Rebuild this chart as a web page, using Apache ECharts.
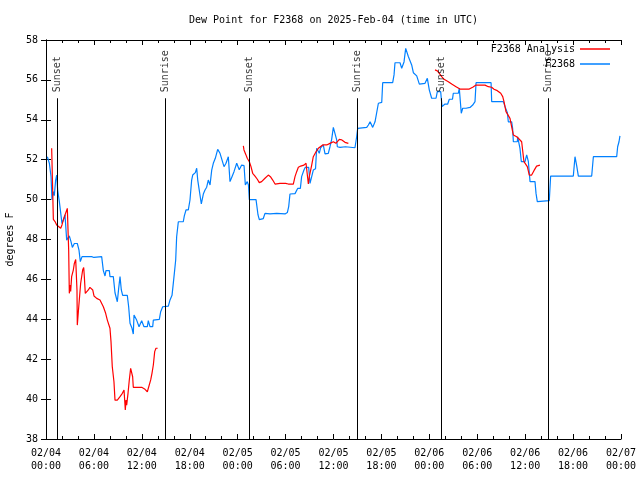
<!DOCTYPE html>
<html><head><meta charset="utf-8">
<script src="https://cdn.jsdelivr.net/npm/echarts@6/dist/echarts.min.js"></script>
<style>html,body{margin:0;padding:0;background:#fff}#c{width:640px;height:480px}</style>
</head><body><div id="c"></div>
<script>
// Hours since 2025-02-04 00:00 UTC
const blueTimes = [0.17,0.42,0.63,0.75,0.92,1.04,1.21,1.34,1.46,1.67,1.88,2.0,2.17,2.38,2.59,2.92,3.13,3.3,3.55,3.92,4.13,4.3,4.51,5.72,6.0,6.97,7.18,7.39,7.51,7.93,8.01,8.43,8.64,8.93,9.1,9.27,9.43,9.6,10.18,10.35,10.52,10.77,10.93,11.02,11.35,11.65,11.98,12.27,12.69,12.81,13.02,13.36,13.44,14.19,14.36,14.61,15.32,15.53,15.78,15.94,16.07,16.24,16.36,16.57,17.19,17.32,17.53,17.82,18.03,18.24,18.37,18.7,18.87,19.0,19.2,19.45,19.7,19.91,20.12,20.32,20.54,20.75,20.95,21.2,21.5,21.79,22.04,22.29,22.54,22.83,23.04,23.29,23.54,23.88,24.2,24.5,24.8,24.96,25.2,25.35,25.46,26.3,26.55,26.71,27.21,27.42,28.05,28.89,29.93,30.22,30.39,30.55,31.18,31.51,31.85,32.01,32.3,32.47,32.89,33.06,33.3,33.47,33.75,33.89,34.1,34.22,34.39,34.72,34.94,35.35,35.56,35.77,35.98,36.23,36.4,36.48,36.81,37.5,38.69,38.9,39.03,40.16,40.37,40.58,40.91,41.2,41.41,41.62,42.04,42.16,43.41,43.58,43.7,44.33,44.54,44.75,44.83,45.04,45.37,45.79,46.0,46.2,46.42,46.75,47.46,47.75,48.0,48.29,48.84,49.0,49.42,49.59,49.75,49.96,50.3,50.5,50.9,51.0,51.63,51.75,51.9,52.0,52.18,52.6,53.09,53.43,53.72,53.85,55.73,55.81,57.27,57.48,57.77,57.89,58.31,58.43,58.52,59.02,59.06,59.25,59.35,59.52,59.98,60.19,60.4,60.61,61.23,61.36,61.52,63.02,63.19,66.03,66.24,66.45,66.66,68.33,68.54,71.46,71.58,71.75,71.87];
const blueValues = [52.15,51.82,51.15,49.98,50.4,50.2,50.98,51.23,50.48,49.9,49.98,48.81,48.98,49.23,47.97,48.18,47.89,47.6,47.8,47.8,47.47,46.89,47.14,47.14,47.1,47.14,46.44,46.17,46.44,46.44,46.14,46.14,45.33,44.88,45.55,46.14,45.47,45.2,45.2,44.63,43.8,43.55,43.26,44.22,43.96,43.63,43.93,43.63,43.63,43.93,43.63,43.63,43.96,44.0,44.38,44.63,44.66,44.97,45.2,45.8,46.3,46.97,48.14,48.89,48.89,49.18,49.48,49.48,49.98,50.98,51.23,51.35,51.57,50.98,50.98,49.78,50.28,50.48,50.62,50.98,50.73,51.48,51.82,52.07,52.52,52.32,52.23,51.65,51.82,52.15,50.9,51.15,51.4,51.82,51.5,51.73,51.7,50.73,50.9,50.73,50.0,50.0,49.23,49.0,49.05,49.31,49.28,49.31,49.28,49.35,49.65,50.28,50.3,50.56,50.56,51.15,51.48,51.62,51.62,50.81,50.81,51.48,51.55,52.57,52.57,52.32,52.6,52.74,52.29,52.32,52.65,53.02,53.62,53.62,52.99,52.65,52.62,52.65,52.6,53.15,53.57,53.62,53.74,53.9,53.62,53.9,53.95,54.83,54.87,55.86,55.86,56.25,56.86,56.86,56.58,56.58,56.9,57.58,57.17,56.75,56.36,56.36,56.2,55.79,55.83,56.08,55.49,55.08,55.08,55.41,55.41,54.66,54.7,54.79,54.79,55.03,55.03,55.33,55.33,55.58,55.58,54.33,54.58,54.58,54.62,54.74,54.91,55.86,55.86,54.91,54.91,54.66,54.36,53.9,53.9,53.57,52.9,52.9,53.15,53.15,52.57,51.9,51.9,52.24,51.9,50.9,50.9,50.31,49.9,49.95,51.18,51.18,52.15,51.7,51.18,51.18,52.15,52.15,52.65,52.9,53.19];

// null marks a gap between analysis runs
const redTimes = [0.71,0.8,0.82,0.92,1.13,1.34,1.55,1.84,2.0,2.17,2.38,2.67,2.79,2.84,2.92,3.0,3.09,3.21,3.42,3.55,3.72,3.84,3.88,3.92,4.05,4.17,4.34,4.59,4.72,4.8,4.92,5.3,5.5,5.72,5.85,6.01,6.35,6.76,6.97,7.18,7.47,7.68,7.93,8.01,8.14,8.3,8.51,8.64,8.93,9.27,9.56,9.77,9.93,10.02,10.1,10.27,10.43,10.6,10.77,10.85,10.93,11.98,12.4,12.69,12.94,13.11,13.27,13.44,13.61,13.77,13.98,
  null,
  24.71,24.79,25.04,25.2,25.46,25.67,25.88,26.17,26.46,26.71,27.0,27.42,27.84,28.1,28.39,28.68,29.3,30.0,30.34,30.97,31.18,31.39,31.6,31.89,32.3,32.56,32.75,32.85,32.97,33.27,33.47,33.81,34.1,34.65,35.15,35.56,35.98,36.3,36.73,37.0,37.44,37.86,
  null,
  48.71,49.0,49.25,49.55,49.84,50.38,50.8,51.0,51.34,51.84,53.0,53.43,53.85,54.97,55.39,55.8,56.1,56.51,56.94,57.19,57.35,57.6,57.85,58.1,58.31,58.52,58.75,58.94,59.2,59.56,59.75,59.85,60.05,60.27,60.52,60.81,61.1,61.43,61.85];
const redValues = [52.57,52.57,50.73,49.01,48.9,48.73,48.65,48.56,48.73,48.98,49.23,49.56,49.56,47.47,45.3,45.72,45.4,46.14,46.47,46.8,47.0,47.0,45.47,43.71,44.38,44.97,45.8,46.47,46.6,46.14,45.3,45.47,45.6,45.67,45.47,45.17,45.05,44.97,44.93,44.63,44.3,43.96,43.9,43.55,42.88,41.62,40.87,39.95,39.95,40.12,40.29,40.46,39.45,39.95,39.7,40.29,40.96,41.54,41.62,41.12,40.59,40.59,40.49,40.37,40.37,40.96,41.29,41.71,42.38,42.55,42.55,
  null,
  52.69,52.49,52.24,52.07,51.9,51.65,51.32,51.18,51.02,50.85,50.9,51.07,51.23,51.15,50.98,50.78,50.81,50.81,50.78,50.78,51.15,51.4,51.62,51.68,51.73,51.82,51.78,50.78,51.15,51.73,52.15,52.4,52.57,52.74,52.74,52.82,52.9,52.82,53.02,53.0,52.87,52.82,
  null,
  56.5,56.45,56.33,56.16,56.03,55.91,55.79,55.79,55.66,55.54,55.54,55.63,55.74,55.74,55.66,55.63,55.53,55.46,55.33,55.16,54.91,54.41,54.41,54.07,53.65,53.24,53.15,53.15,53.05,52.9,52.85,51.9,51.85,51.65,51.23,51.23,51.45,51.68,51.73];

const eventNames = ['Sunset','Sunrise','Sunset','Sunrise','Sunset','Sunrise'];
const eventTimes = [1.42,14.94,25.46,38.99,49.5,62.9];
const eventLineTop = 55.08;

const yMin = 38, yMax = 58, yStep = 2;
const xMin = 0, xMax = 72, xStep = 6;
const titleText = 'Dew Point for F2368 on 2025-Feb-04 (time in UTC)';
const yName = 'degrees F';
const seriesNames = ['F2368 Analysis','F2368'];

const FONT = 'DejaVu Sans Mono';
const pad = n => (n < 10 ? '0' : '') + n;
const xLabel = v => { const d = 4 + Math.floor(v / 24); const h = v % 24; return '02/' + pad(d) + '\n' + pad(h) + ':00'; };

const blueData = blueTimes.map((t, i) => [t, blueValues[i]]);
const redData = redTimes.map((t, i) => t === null ? [null, null] : [t, redValues[i]]);
const eventData = eventTimes.map((t, i) => ({value: [t, eventLineTop], name: eventNames[i]}));
const eventLines = eventTimes.map(t => [{coord: [t, eventLineTop]}, {coord: [t, yMin]}]);

const axisCommon = {
  type: 'value', min: xMin, max: xMax, interval: xStep,
  axisLine: {show: true, onZero: false, lineStyle: {color: '#000', width: 1}},
  axisTick: {show: true, inside: true, length: 5, lineStyle: {color: '#000'}},
  minorTick: {show: true, splitNumber: 3, length: 3, lineStyle: {color: '#000'}},
  splitLine: {show: false}
};

const chart = echarts.init(document.getElementById('c'), null, {renderer: 'canvas'});
chart.setOption({
  animation: false,
  backgroundColor: '#fff',
  title: {text: titleText, left: 189, top: 15, padding: 0,
    textStyle: {fontFamily: FONT, fontSize: 10, fontWeight: 'normal', color: '#000'}},
  grid: {left: 46, right: 19, top: 40, bottom: 41, containLabel: false, outerBoundsMode: 'none'},
  legend: {
    data: seriesNames, orient: 'vertical', right: 30, top: 43, align: 'right',
    icon: 'rect', itemWidth: 30, itemHeight: 1.5, itemGap: 3, padding: 0,
    textStyle: {fontFamily: FONT, fontSize: 10, color: '#000', lineHeight: 12}
  },
  xAxis: [
    Object.assign({}, axisCommon, {position: 'bottom',
      axisLabel: {show: true, formatter: xLabel, fontFamily: FONT, fontSize: 10, color: '#000', lineHeight: 13, margin: 8, showMinLabel: true, showMaxLabel: true}}),
    Object.assign({}, axisCommon, {position: 'top', axisLabel: {show: false}})
  ],
  yAxis: [
    {type: 'value', min: yMin, max: yMax, interval: yStep, position: 'left',
      name: yName, nameLocation: 'middle', nameGap: 30, nameRotate: 90,
      nameTextStyle: {fontFamily: FONT, fontSize: 10, color: '#000'},
      axisLine: {show: true, lineStyle: {color: '#000', width: 1}},
      axisTick: {show: true, inside: true, length: 5, lineStyle: {color: '#000'}},
      axisLabel: {fontFamily: FONT, fontSize: 10, color: '#000', margin: 8},
      splitLine: {show: false}},
    {type: 'value', min: yMin, max: yMax, interval: yStep, position: 'right',
      axisLine: {show: true, lineStyle: {color: '#000', width: 1}},
      axisTick: {show: true, inside: true, length: 5, lineStyle: {color: '#000'}},
      axisLabel: {show: false}, splitLine: {show: false}}
  ],
  series: [
    {name: seriesNames[1], type: 'line', data: blueData, symbol: 'none', showSymbol: false,
      lineStyle: {color: '#0080ff', width: 1.2}, itemStyle: {color: '#0080ff'}, z: 3},
    {name: seriesNames[0], type: 'line', data: redData, symbol: 'none', showSymbol: false, connectNulls: false,
      lineStyle: {color: '#ff0000', width: 1.2}, itemStyle: {color: '#ff0000'}, z: 4},
    {name: 'events', type: 'scatter', data: eventData, symbolSize: 0, silent: true, z: 5,
      label: {show: true, formatter: p => p.name, position: 'top', distance: 6, rotate: 90,
        align: 'left', verticalAlign: 'middle', fontFamily: FONT, fontSize: 10, color: '#000'},
      markLine: {silent: true, symbol: ['none', 'none'], animation: false,
        lineStyle: {color: '#000', width: 1, type: 'solid'}, label: {show: false},
        emphasis: {disabled: true}, data: eventLines}}
  ]
});
</script></body></html>
